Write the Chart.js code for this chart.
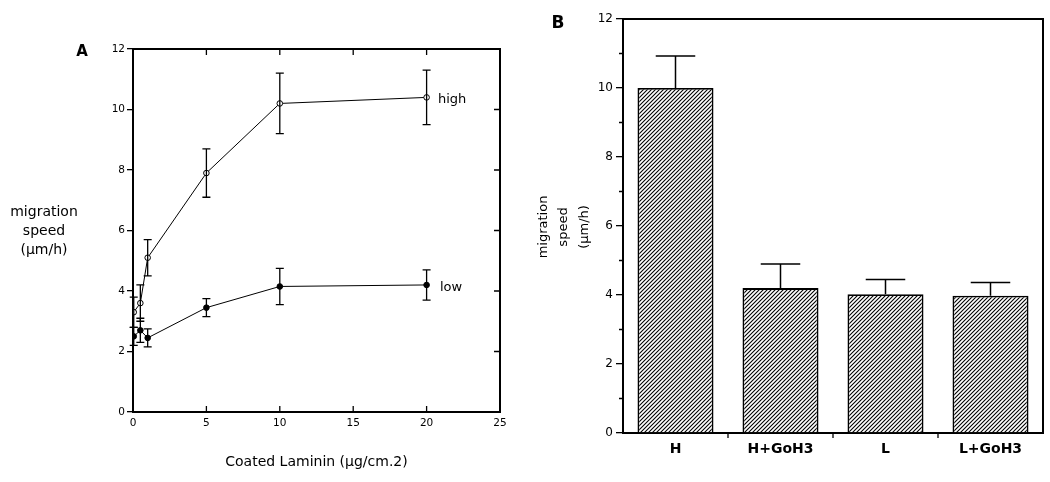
<!DOCTYPE html>
<html><head><meta charset="utf-8">
<script src="https://cdn.jsdelivr.net/npm/chart.js@4/dist/chart.umd.min.js"></script>
<style>
html,body{margin:0;padding:0;background:#fff;}
#wrap{position:relative;width:1050px;height:482px;background:#fff;}
.c{position:absolute;top:0;width:525px;height:482px;}
</style></head><body>
<div id="wrap">
<div class="c" style="left:0"><canvas id="a"></canvas></div>
<div class="c" style="left:525px"><canvas id="b"></canvas></div>
</div>
<script>
// ---- Panel A data ----
const lamininX   = [0.05, 0.5, 1, 5, 10, 20];
const highSpeed  = [3.3, 3.6, 5.1, 7.9, 10.2, 10.4];
const highErr    = [0.5, 0.6, 0.6, 0.8, 1.0, 0.9];
const lowSpeed   = [2.5, 2.7, 2.45, 3.45, 4.15, 4.2];
const lowErr     = [0.3, 0.4, 0.3, 0.3, 0.6, 0.5];
const xTicksA    = [0, 5, 10, 15, 20, 25];
const yTicksA    = [0, 2, 4, 6, 8, 10, 12];
// ---- Panel B data ----
const groups     = ['H', 'H+GoH3', 'L', 'L+GoH3'];
const groupSpeed = [10.0, 4.2, 4.02, 3.98];
const groupErr   = [0.93, 0.7, 0.43, 0.38];
const yTicksB    = [0, 2, 4, 6, 8, 10, 12];
const yMinorB    = [1, 3, 5, 7, 9, 11];

const FONT = "'DejaVu Sans', 'Liberation Sans', sans-serif";
Chart.defaults.font.family = FONT;
Chart.defaults.color = '#000';

function hatch() {
  const s = 4, c = document.createElement('canvas');
  c.width = s; c.height = s;
  const g = c.getContext('2d');
  g.fillStyle = '#fff'; g.fillRect(0, 0, s, s);
  g.strokeStyle = '#000'; g.lineWidth = 1.1;
  g.beginPath();
  g.moveTo(-1, s + 1); g.lineTo(s + 1, -1);
  g.moveTo(-1, 1); g.lineTo(1, -1);
  g.moveTo(s - 1, s + 1); g.lineTo(s + 1, s - 1);
  g.stroke();
  return document.getElementById('b').getContext('2d').createPattern(c, 'repeat');
}

// ---------------- Panel A ----------------
const pluginA = {
  id: 'pa',
  afterDatasetsDraw(chart) {
    const ctx = chart.ctx, xs = chart.scales.x, ys = chart.scales.y, a = chart.chartArea;
    ctx.save();
    ctx.strokeStyle = '#000';
    ctx.lineWidth = 1.3;
    const bars = [[highSpeed, highErr], [lowSpeed, lowErr]];
    bars.forEach(([v, e]) => {
      lamininX.forEach((x, i) => {
        const px = xs.getPixelForValue(x);
        const t = ys.getPixelForValue(v[i] + e[i]);
        const b = ys.getPixelForValue(v[i] - e[i]);
        ctx.beginPath();
        ctx.moveTo(px, t); ctx.lineTo(px, b);
        ctx.moveTo(px - 4, t); ctx.lineTo(px + 4, t);
        ctx.moveTo(px - 4, b); ctx.lineTo(px + 4, b);
        ctx.stroke();
      });
    });
    ctx.lineWidth = 2;
    ctx.beginPath();
    ctx.moveTo(a.left, a.top); ctx.lineTo(a.right, a.top); ctx.lineTo(a.right, a.bottom);
    ctx.stroke();
    ctx.lineWidth = 1.3;
    ctx.beginPath();
    xTicksA.forEach(v => {
      const px = xs.getPixelForValue(v);
      if (v > 0 && v < 25) {
        ctx.moveTo(px, a.bottom); ctx.lineTo(px, a.bottom - 6);
        ctx.moveTo(px, a.top); ctx.lineTo(px, a.top + 6);
      }
    });
    yTicksA.forEach(v => {
      const py = ys.getPixelForValue(v);
      if (v > 0 && v < 12) { ctx.moveTo(a.right, py); ctx.lineTo(a.right - 6, py); }
    });
    ctx.stroke();
    ctx.fillStyle = '#000';
    ctx.textAlign = 'center'; ctx.textBaseline = 'middle';
    ctx.font = "bold 15px " + FONT;
    ctx.fillText('A', 82, 52);
    ctx.font = "14px " + FONT;
    ctx.fillText('migration', 44, 212);
    ctx.fillText('speed', 44, 231);
    ctx.fillText('(\u00b5m/h)', 44, 250);
    ctx.fillText('Coated Laminin (\u00b5g/cm.2)', (a.left + a.right) / 2, 462);
    ctx.textAlign = 'left';
    ctx.font = "13px " + FONT;
    ctx.fillText('high', 438, 100);
    ctx.fillText('low', 440, 288);
    ctx.restore();
  }
};

new Chart(document.getElementById('a'), {
  type: 'line',
  data: {
    datasets: [
      { label: 'high', data: lamininX.map((x, i) => ({ x, y: highSpeed[i] })),
        borderColor: '#000', borderWidth: 1, pointRadius: 2.8, pointBorderWidth: 1,
        pointBackgroundColor: '#fff', pointBorderColor: '#000', tension: 0 },
      { label: 'low', data: lamininX.map((x, i) => ({ x, y: lowSpeed[i] })),
        borderColor: '#000', borderWidth: 1, pointRadius: 2.8, pointBorderWidth: 1,
        pointBackgroundColor: '#000', pointBorderColor: '#000', tension: 0 }
    ]
  },
  options: {
    responsive: true, maintainAspectRatio: false, animation: false,
    layout: { padding: { left: 95, right: 25, top: 49, bottom: 40 } },
    plugins: { legend: { display: false }, tooltip: { enabled: false } },
    scales: {
      x: {
        type: 'linear', min: 0, max: 25,
        afterBuildTicks: s => { s.ticks = xTicksA.map(v => ({ value: v })); },
        afterFit: s => { s.height = 30; },
        ticks: { font: { size: 10.5 }, padding: 5, color: '#000' },
        grid: { drawOnChartArea: false, drawTicks: false },
        border: { display: true, color: '#000', width: 2 }
      },
      y: {
        min: 0, max: 12,
        afterBuildTicks: s => { s.ticks = yTicksA.map(v => ({ value: v })); },
        afterFit: s => { s.width = 38; },
        ticks: { font: { size: 10.5 }, padding: 2, color: '#000' },
        grid: { drawOnChartArea: false, drawTicks: true, tickLength: 6, color: '#000', lineWidth: 1.3 },
        border: { display: true, color: '#000', width: 2 }
      }
    }
  },
  plugins: [pluginA]
});

// ---------------- Panel B ----------------
const pluginB = {
  id: 'pb',
  afterDatasetsDraw(chart) {
    const ctx = chart.ctx, xs = chart.scales.x, ys = chart.scales.y, a = chart.chartArea;
    ctx.save();
    ctx.strokeStyle = '#000';
    ctx.lineWidth = 1.5;
    const meta = chart.getDatasetMeta(0);
    groups.forEach((g, i) => {
      const px = xs.getPixelForValue(i);
      const t = ys.getPixelForValue(groupSpeed[i] + groupErr[i]);
      const b = ys.getPixelForValue(groupSpeed[i]);
      const hw = meta.data[i].width * 0.26;
      ctx.beginPath();
      ctx.moveTo(px, b); ctx.lineTo(px, t);
      ctx.moveTo(px - hw, t); ctx.lineTo(px + hw, t);
      ctx.stroke();
    });
    ctx.lineWidth = 2;
    ctx.beginPath();
    ctx.moveTo(a.left, a.top); ctx.lineTo(a.right, a.top); ctx.lineTo(a.right, a.bottom);
    ctx.stroke();
    ctx.lineWidth = 1.3;
    ctx.beginPath();
    yMinorB.forEach(v => {
      const py = ys.getPixelForValue(v);
      ctx.moveTo(a.left, py); ctx.lineTo(a.left - 4, py);
    });
    for (let i = 0; i < groups.length - 1; i++) {
      const px = (xs.getPixelForValue(i) + xs.getPixelForValue(i + 1)) / 2;
      ctx.moveTo(px, a.bottom); ctx.lineTo(px, a.bottom + 5);
    }
    ctx.stroke();
    ctx.fillStyle = '#000';
    ctx.textAlign = 'center'; ctx.textBaseline = 'middle';
    ctx.font = "bold 17px " + FONT;
    ctx.fillText('B', 33, 24);
    ctx.font = "13px " + FONT;
    const cy = (a.top + a.bottom) / 2 + 1;
    [['migration', 19], ['speed', 39], ['(\u00b5m/h)', 60]].forEach(([t, x]) => {
      ctx.save(); ctx.translate(x, cy); ctx.rotate(-Math.PI / 2);
      ctx.fillText(t, 0, 0); ctx.restore();
    });
    ctx.restore();
  }
};

new Chart(document.getElementById('b'), {
  type: 'bar',
  data: {
    labels: groups,
    datasets: [{
      data: groupSpeed, backgroundColor: hatch(), borderColor: '#000', borderWidth: 1.8,
      barPercentage: 0.724, categoryPercentage: 1.0
    }]
  },
  options: {
    responsive: true, maintainAspectRatio: false, animation: false,
    layout: { padding: { left: 58, right: 7, top: 19, bottom: 9 } },
    plugins: { legend: { display: false }, tooltip: { enabled: false } },
    scales: {
      x: {
        afterFit: s => { s.height = 40; },
        ticks: { font: { size: 14, weight: 'bold' }, padding: 8, color: '#000' },
        grid: { drawOnChartArea: false, drawTicks: false },
        border: { display: true, color: '#000', width: 2 }
      },
      y: {
        min: 0, max: 12,
        afterBuildTicks: s => { s.ticks = yTicksB.map(v => ({ value: v })); },
        afterFit: s => { s.width = 40; },
        ticks: { font: { size: 12 }, padding: 3, color: '#000' },
        grid: { drawOnChartArea: false, drawTicks: true, tickLength: 7, color: '#000', lineWidth: 1.3 },
        border: { display: true, color: '#000', width: 2 }
      }
    }
  },
  plugins: [pluginB]
});
</script>
</body></html>
